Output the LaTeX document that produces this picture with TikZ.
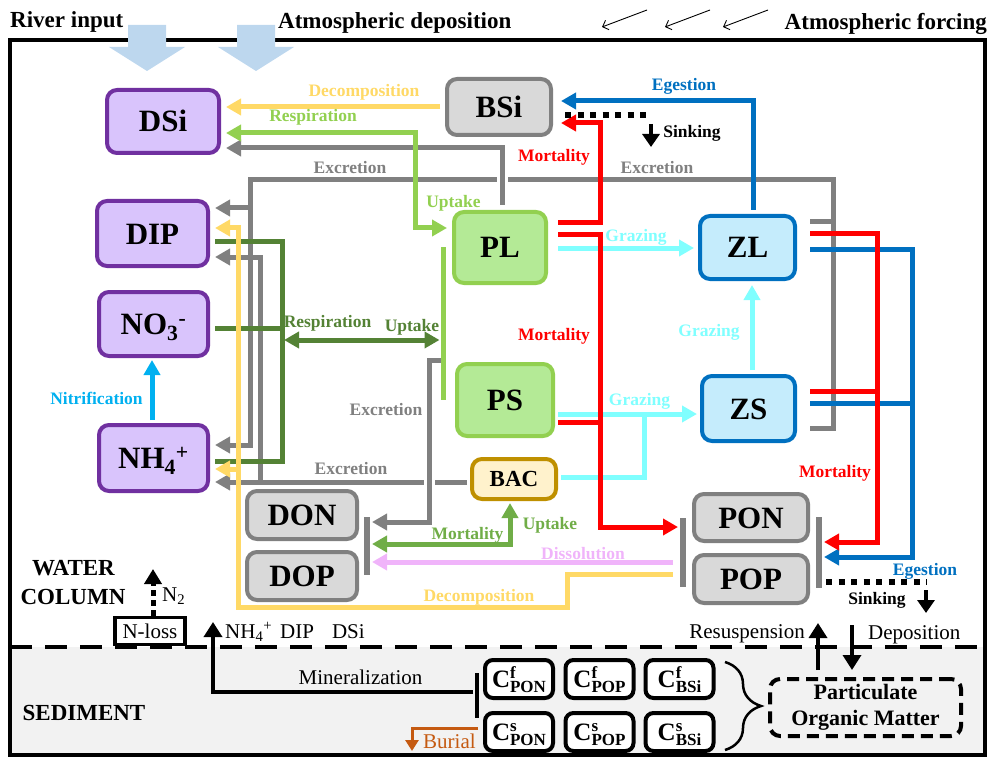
\documentclass[tikz,border=0pt]{standalone}
\usepackage{fontspec}
\setmainfont{Liberation Serif}
\usetikzlibrary{arrows.meta,decorations.pathreplacing}
\definecolor{decY}{RGB}{255,217,102}
\definecolor{resL}{RGB}{146,208,80}
\definecolor{excG}{RGB}{128,128,128}
\definecolor{resD}{RGB}{84,130,53}
\definecolor{morG}{RGB}{112,173,71}
\definecolor{egeB}{RGB}{0,112,192}
\definecolor{graC}{RGB}{128,255,255}
\definecolor{disP}{RGB}{240,180,250}
\definecolor{nitB}{RGB}{0,176,240}
\definecolor{burO}{RGB}{197,90,17}
\definecolor{inB}{RGB}{189,215,238}
\definecolor{nutF}{RGB}{217,196,252}
\definecolor{nutD}{RGB}{112,48,160}
\definecolor{orgF}{RGB}{217,217,217}
\definecolor{phyF}{RGB}{180,234,150}
\definecolor{bacF}{RGB}{255,242,204}
\definecolor{bacD}{RGB}{191,144,0}
\definecolor{zooF}{RGB}{197,236,252}
\definecolor{sedF}{RGB}{242,242,242}
\newcommand{\sedlab}[2]{C\rlap{\raisebox{9pt}{\fontsize{17}{17}\selectfont #1}}\raisebox{-5pt}{\fontsize{17}{17}\selectfont #2}}
\begin{document}
\begin{tikzpicture}[x=1pt,y=-1pt,
		>={Triangle[length=15pt,width=16pt]},
		flow/.style={line width=5pt},
		labl/.style={inner sep=0pt,text height=12pt,text depth=0pt,font=\fontsize{17.5}{18}\selectfont\bfseries},
		normtxt/.style={inner sep=0pt,text height=14pt,text depth=0pt,font=\fontsize{21}{21}\selectfont},
		heading/.style={inner sep=0pt,text height=15pt,text depth=0pt,font=\fontsize{23}{23}\selectfont\bfseries},
		pool/.style={rounded corners=10pt,line width=4pt,inner sep=0pt,text height=21pt,text depth=0pt,font=\fontsize{31}{31}\selectfont\bfseries},
		nut/.style={pool,draw=nutD,fill=nutF},
		org/.style={pool,draw=excG,fill=orgF},
		phy/.style={pool,draw=resL,fill=phyF},
		zoo/.style={pool,draw=egeB,fill=zooF},
		bac/.style={pool,draw=bacD,fill=bacF,font=\fontsize{23}{23}\selectfont\bfseries,text height=15pt},
		sed/.style={draw,rounded corners=8pt,line width=4pt,fill=white,minimum width=68pt,minimum height=38pt,inner sep=0pt,text height=17pt,text depth=0pt,font=\fontsize{25}{25}\selectfont\bfseries},
		bar/.style={fill=#1,minimum width=6pt,inner sep=0pt,outer sep=0pt},
		dots/.style={line width=6pt,dash pattern=on 6pt off 6.5pt},
		drop/.style={line width=4pt,-{Triangle[length=13pt,width=17pt]}},
		tie/.style={line width=3.5pt,-{Triangle[length=15pt,width=18pt]}}
	]
	\useasboundingbox (0,0) rectangle (992,759);
	\fill[sedF] (10,647) rectangle (985,755);
	\draw[line width=4pt,dash pattern=on 22pt off 13pt] (10,647) -- (985,647);
	\draw[line width=4pt] (10,40) rectangle (985,755);
	\pgfmathsetmacro{\sw}{19}
	\pgfmathsetmacro{\hw}{38}
	\foreach \x in {147,256}
		\fill[inB] (\x-\sw,25) -- (\x+\sw,25) -- (\x+\sw,47) -- (\x+\hw,47) -- (\x,71) -- (\x-\hw,47) -- (\x-\sw,47) -- cycle;
	\foreach \x in {602,665,723}
		\draw[line width=0.9pt,-{Straight Barb[length=5pt]}] (\x+45,10) -- (\x,27);
	\node[heading,anchor=west] (river) at (10,20) {River input};
	\node[heading,anchor=west] (depo) at (278,21) {Atmospheric deposition};
	\node[heading,anchor=east] (forcing) at (987,22) {Atmospheric forcing};
	\node[heading] (water) at (73.5,568) {WATER};
	\node[heading] (column) at (73,597) {COLUMN};
	\node[heading] (sediment) at (84,713) {SEDIMENT};

	\node[nut,minimum width=112pt,minimum height=63pt] (DSi) at (163,121.5) {DSi};
	\node[nut,minimum width=111pt,minimum height=65pt] (DIP) at (152.5,233.5) {DIP};
	\node[nut,minimum width=109pt,minimum height=64pt] (NO3) at (153.5,324) {NO\textsubscript{3}\textsuperscript{-}};
	\node[nut,minimum width=109pt,minimum height=66pt] (NH4) at (153.5,458) {NH\textsubscript{4}\textsuperscript{+}};
	\node[org,minimum width=104pt,minimum height=56pt] (BSi) at (499,107) {BSi};
	\node[phy,minimum width=92pt,minimum height=71pt] (PL) at (500,247.5) {PL};
	\node[phy,minimum width=96pt,minimum height=72pt] (PS) at (505,400) {PS};
	\node[bac,minimum width=84pt,minimum height=40pt] (BAC) at (514,479) {BAC};
	\node[zoo,minimum width=95pt,minimum height=63pt] (ZL) at (747.5,247.5) {ZL};
	\node[zoo,minimum width=93pt,minimum height=65pt] (ZS) at (748.5,408.5) {ZS};
	\node[org,minimum width=110pt,minimum height=48pt] (DON) at (302,515) {DON};
	\node[org,minimum width=110pt,minimum height=48pt] (DOP) at (302,576) {DOP};
	\node[org,minimum width=114pt,minimum height=47pt] (PON) at (751,517.5) {PON};
	\node[org,minimum width=114pt,minimum height=48pt] (POP) at (751,579) {POP};
	\node[bar=excG,minimum height=58pt] (dbar) at (367,546) {};
	\node[bar=excG,minimum height=69pt] (pbarL) at (683,552.5) {};
	\node[bar=excG,minimum height=71pt] (pbarR) at (819,552.5) {};
	\node[bar=resL,minimum height=153pt,minimum width=5pt] (phybar) at (443,323.5) {};

	\node[sed] (CfPON) at (519,679) {\sedlab{f}{PON}};
	\node[sed] (CfPOP) at (599.5,679) {\sedlab{f}{POP}};
	\node[sed] (CfBSi) at (679.5,679) {\sedlab{f}{BSi}};
	\node[sed] (CsPON) at (519,732) {\sedlab{s}{PON}};
	\node[sed] (CsPOP) at (599.5,732) {\sedlab{s}{POP}};
	\node[sed] (CsBSi) at (679.5,732) {\sedlab{s}{BSi}};
	\node[bar=black,minimum height=45pt,minimum width=4pt] (sbar) at (477,695.5) {};
	\node[draw,rounded corners=10pt,line width=4pt,dash pattern=on 12pt off 7pt,minimum width=191pt,minimum height=57pt,align=center,inner sep=0pt,font=\fontsize{22}{26}\selectfont\bfseries] (POM) at (865.5,707.5) {Particulate\\Organic Matter};
	\node[draw,line width=3.5pt,fill=white,minimum width=70pt,minimum height=27pt,normtxt] (Nloss) at (150,631) {N-loss};

	\begin{scope}[flow,excG]
		\draw[shorten <=13pt] (ZL.east |- 0,222) -- (833,222);
		\draw[->,shorten <=13pt,shorten >=5pt] (ZS.east |- 0,428) -| (833,180) -| (250,445) -- (NH4.east |- 0,445);
		\draw[->,shorten >=5pt] (250,208) -- (DIP.east |- 0,208);
		\draw[->,shorten <=3pt,shorten >=5pt] (BAC.west |- 0,482) -- (NH4.east |- 0,482);
		\draw[->,shorten >=5pt] (260,482) |- (DIP.east |- 0,257);
		\draw[white,line width=11pt] (502,172) -- (502,188) (429,474) -- (429,490);
		\draw[->,shorten <=5pt,shorten >=5pt] (PL.north -| 502,0) |- (DSi.east |- 0,148);
		\draw[->,shorten >=2pt] (phybar.west |- 0,360) -| (429,522) -- (dbar.east |- 0,522);
	\end{scope}
	\begin{scope}[flow,resD]
		\draw[shorten <=5pt,shorten >=5pt] (DIP.east |- 0,241) -| (282,461) -- (NH4.east |- 0,461);
		\draw[shorten <=5pt] (NO3.east |- 0,328) -- (282,328);
		\draw[<->,shorten >=1pt] (284,340) -- (phybar.west |- 0,340);
	\end{scope}
	\begin{scope}[flow,decY]
		\draw[->,shorten <=5pt,shorten >=5pt] (BSi.west |- 0,107) -- (DSi.east |- 0,107);
		\draw[->,shorten <=7pt,shorten >=5pt] (pbarL.west |- 0,574) -| (567,607) -| (238,228) -- (DIP.east |- 0,228);
		\draw[->,shorten >=5pt] (238,469) -- (NH4.east |- 0,469);
	\end{scope}
	\draw[flow,resL,<->,shorten <=5pt,shorten >=5pt] (DSi.east |- 0,133) -| (415,228) -- (PL.west |- 0,228);
	\begin{scope}[flow,graC]
		\draw[->,shorten <=10pt,shorten >=4pt] (PL.east |- 0,248) -- (ZL.west |- 0,248);
		\draw[->,shorten <=4pt,shorten >=4pt] (ZS.north -| 752,0) -- (ZL.south -| 752,0);
		\draw[->,shorten <=3pt,shorten >=3pt] (PS.east |- 0,414) -- (ZS.west |- 0,414);
		\draw[shorten <=3pt] (BAC.east |- 0,477) -| (644,414);
	\end{scope}
	\draw[flow,disP,->,shorten <=7pt,shorten >=2pt] (pbarL.west |- 0,562) -- (dbar.east |- 0,562);
	\draw[flow,morG,<->,shorten <=2pt,shorten >=2pt] (dbar.east |- 0,544) -| (BAC.south -| 510,0);
	\begin{scope}[flow,egeB]
		\draw[->,shorten <=4pt,shorten >=8pt] (ZL.north -| 753,0) |- (BSi.east |- 0,101);
		\draw[->,shorten <=13pt,shorten >=2pt] (ZL.east |- 0,249) -| (912,557) -- (pbarR.east |- 0,557);
		\draw[shorten <=13pt] (ZS.east |- 0,403) -- (912,403);
	\end{scope}
	\begin{scope}[flow,red]
		\draw[->,shorten <=10pt,shorten >=8pt] (PL.east |- 0,223) -| (600,123) -- (BSi.east |- 0,123);
		\draw[->,shorten <=10pt,shorten >=2pt] (PL.east |- 0,235) -| (600,527) -- (pbarL.west |- 0,527);
		\draw[shorten <=3pt] (PS.east |- 0,422) -- (600,422);
		\draw[->,shorten <=13pt,shorten >=2pt] (ZL.east |- 0,234) -| (877,542) -- (pbarR.east |- 0,542);
		\draw[shorten <=13pt] (ZS.east |- 0,391) -- (877,391);
	\end{scope}
	\draw[flow,nitB,->,shorten <=3pt,shorten >=2pt] (NH4.north -| 152,0) -- (NO3.south -| 152,0);
	\draw[dots,shorten <=12pt] (BSi.east |- 0,115) -- (652,115);
	\draw[drop] (651,124) -- (651,147);
	\draw[dots,shorten <=4pt] (pbarR.east |- 0,582) -- (927,582);
	\draw[drop] (926,590) -- (926,613);
	\draw[line width=5pt,dash pattern=on 6pt off 4pt,-{Triangle[length=15pt,width=17pt]}] (Nloss.north -| 153,0) -- (153,569);

	\draw[tie,shorten <=2pt] (sbar.west |- 0,692) -| (213,622);
	\draw[line width=3pt,burO,-{Triangle[length=11pt,width=13pt]},shorten <=5pt] (CsPON.west |- 0,728) -| (412,751);
	\draw[tie,shorten <=7pt] (POM.north -| 818,0) -- (818,623);
	\draw[tie,shorten >=7pt] (852,625) -- (POM.north -| 852,0);
	\draw[line width=2.5pt,decorate,decoration={brace,amplitude=36pt}] (725,662) -- (725,750);

	\node[labl,decY] (decTop) at (364,91) {Decomposition};
	\node[labl,resL] (resTop) at (313,116) {Respiration};
	\node[labl,excG] (excTopL) at (350,168) {Excretion};
	\node[labl,excG] (excTopR) at (657,168) {Excretion};
	\node[labl,egeB] (egeTop) at (684,85) {Egestion};
	\node[labl] (sinkTop) at (692,132) {Sinking};
	\node[labl,red] (morTop) at (554,156) {Mortality};
	\node[labl,resL] (uptPL) at (453.5,202) {Uptake};
	\node[labl,graC] (graPL) at (636,235) {Grazing};
	\node[labl,red] (morMid) at (554,334) {Mortality};
	\node[labl,graC] (graZS) at (709,330) {Grazing};
	\node[labl,graC] (graPS) at (639.5,399) {Grazing};
	\node[labl,red] (morZoo) at (835,471) {Mortality};
	\node[labl,resD] (resMid) at (327.5,321) {Respiration};
	\node[labl,resD] (uptMid) at (412,325) {Uptake};
	\node[labl,nitB] (nitLab) at (96.5,398) {Nitrification};
	\node[labl,excG] (excPS) at (386,409) {Excretion};
	\node[labl,excG] (excBAC) at (351,468) {Excretion};
	\node[labl,morG] (morBAC) at (467.5,533) {Mortality};
	\node[labl,morG] (uptBAC) at (550,523) {Uptake};
	\node[labl,disP] (disLab) at (583,553) {Dissolution};
	\node[labl,decY] (decBot) at (479,595) {Decomposition};
	\node[labl,egeB] (egeBot) at (925,569) {Egestion};
	\node[labl] (sinkBot) at (877,598) {Sinking};
	\node[normtxt,anchor=east] (resus) at (805,631) {Resuspension};
	\node[normtxt,anchor=west] (depos) at (868,632) {Deposition};
	\node[normtxt] (minLab) at (360.5,677) {Mineralization};
	\node[normtxt,anchor=west] (retLab) at (225,631) {NH\textsubscript{4}\textsuperscript{+}\hspace{8pt}DIP\hspace{18pt}DSi};
	\node[normtxt,anchor=west] (N2lab) at (162,594) {N\textsubscript{2}};
	\node[normtxt,burO,anchor=west] (burLab) at (423,741) {Burial};
\end{tikzpicture}
\end{document}
